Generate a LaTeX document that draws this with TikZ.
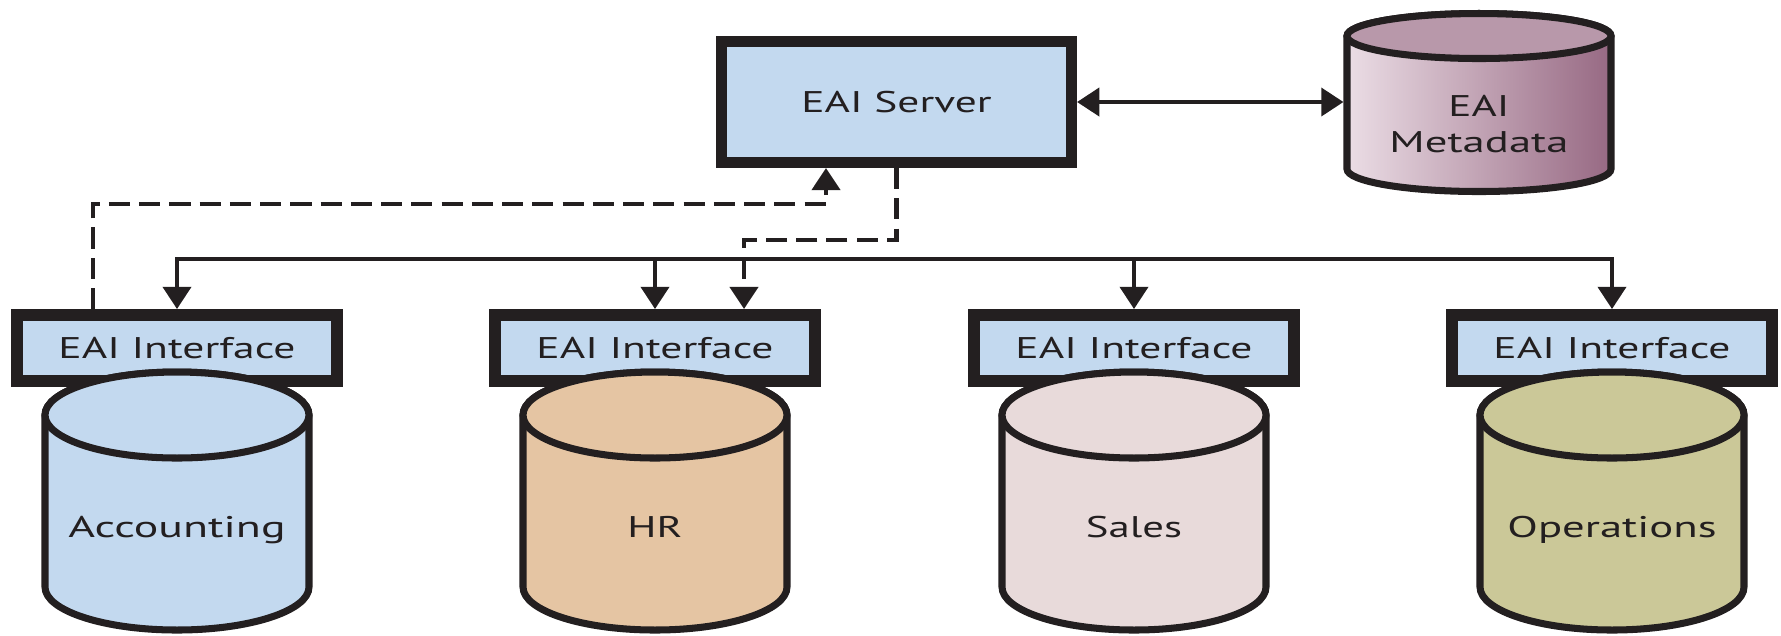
\documentclass[tikz,border=0pt]{standalone}
\usepackage{fontspec}
\setmainfont{PT Sans}
\usetikzlibrary{arrows.meta,calc}
\definecolor{ink}{HTML}{231F20}
\definecolor{ifblue}{HTML}{C3D9EF}
\definecolor{hrcol}{HTML}{E5C5A3}
\definecolor{salescol}{HTML}{E8DADA}
\definecolor{opscol}{HTML}{CBC898}
\definecolor{metaL}{HTML}{EBDDE5}
\definecolor{metaR}{HTML}{976983}
\definecolor{metaTop}{HTML}{B898AA}
\newlength\lblw
% set text #2 stretched horizontally to the width #1
\newcommand{\fitw}[2]{\settowidth{\lblw}{#2}\pgfmathsetmacro\lblfac{#1/\lblw}\scalebox{\lblfac}[1]{#2}}
% cx, top-ellipse y, bottom-ellipse y, rx, ry, fill colour
\newcommand{\drawcyl}[6]{%
  \filldraw[cylline, fill=#6] (#1-#4,-#2) -- (#1-#4,-#3)
    arc[start angle=180,end angle=360,x radius=#4,y radius=#5] -- (#1+#4,-#2)
    arc[start angle=0,end angle=180,x radius=#4,y radius=#5] -- cycle;
  \filldraw[cylline, fill=#6] (#1,-#2) ellipse[x radius=#4, y radius=#5];
}
\begin{document}
\begin{tikzpicture}[x=0.01cm,y=0.01cm,
  >={Triangle[width=8pt,length=6.3pt]},
  fnt/.style={font=\fontsize{8.5}{10.24}\selectfont, text=ink},
  txt/.style={fnt, inner sep=0pt, text height=6pt, text depth=0pt},
  ifbox/.style={txt, draw=ink, fill=ifblue, line width=3.41pt, minimum width=3.19cm, minimum height=0.66cm},
  srvbox/.style={txt, draw=ink, fill=ifblue, line width=3.13pt, minimum width=3.5cm, minimum height=1.21cm},
  cylline/.style={draw=ink, line width=2pt},
  conn/.style={draw=ink, line width=1pt},
  dsh/.style={draw=ink, line width=1.2pt, dash pattern=on 6pt off 2.6pt}]
\useasboundingbox (0,0) rectangle (1781,-635);

% interface boxes
\node[ifbox] (ifA) at (177,-348) {\fitw{2.37cm}{EAI Interface}};
\node[ifbox] (ifB) at (655,-348) {\fitw{2.37cm}{EAI Interface}};
\node[ifbox] (ifC) at (1134,-348) {\fitw{2.37cm}{EAI Interface}};
\node[ifbox] (ifD) at (1612,-348) {\fitw{2.37cm}{EAI Interface}};

% databases
\drawcyl{177}{415}{587}{132}{43}{ifblue}
\drawcyl{655}{415}{587}{132}{43}{hrcol}
\drawcyl{1134}{415}{587}{132}{43}{salescol}
\drawcyl{1612}{415}{587}{132}{43}{opscol}
\node[txt] (acc) at (177,-526.5) {\fitw{2.17cm}{Accounting}};
\node[txt] (hr) at (655,-526.5) {\fitw{0.55cm}{HR}};
\node[txt] (sales) at (1134,-526.5) {\fitw{0.96cm}{Sales}};
\node[txt] (ops) at (1612,-526.5) {\fitw{2.09cm}{Operations}};

% server
\node[srvbox] (srv) at (896.5,-102) {\fitw{1.9cm}{EAI Server}};

% metadata
\draw[cylline, left color=metaL, right color=metaR] (1479-132,-36) -- (1479-132,-169)
  arc[start angle=180,end angle=360,x radius=132,y radius=22.5] -- (1479+132,-36)
  arc[start angle=0,end angle=180,x radius=132,y radius=22.5] -- cycle;
\filldraw[cylline, fill=metaTop] (1479,-36) ellipse[x radius=132, y radius=22.5];
\node[minimum width=2.71cm, minimum height=1.85cm, inner sep=0pt, outer sep=0pt] (meta) at (1479,-102.5) {};
\node[fnt, align=center, inner sep=0pt] (metalbl) at (1479,-124.5) {\fitw{0.61cm}{EAI}\\\fitw{1.79cm}{Metadata}};

% connectors
\coordinate (bus) at (896,-259);
\coordinate (d1) at (826,-204);
\coordinate (d2) at (744,-240);
\draw[conn,<->] (ifA.north) |- (bus) -| (ifD.north);
\draw[conn,->] (ifB.north |- bus) -- (ifB.north);
\draw[conn,->] (ifC.north |- bus) -- (ifC.north);
\draw[conn,<->] (srv.east) -- (srv.east -| meta.west);
\draw[dsh,->] ([xshift=0.815cm]ifA.north west) |- (d1) -- (d1 |- srv.south);
\draw[dsh,->] (srv.south) |- (d2) -- (d2 |- ifB.north);
\end{tikzpicture}
\end{document}
